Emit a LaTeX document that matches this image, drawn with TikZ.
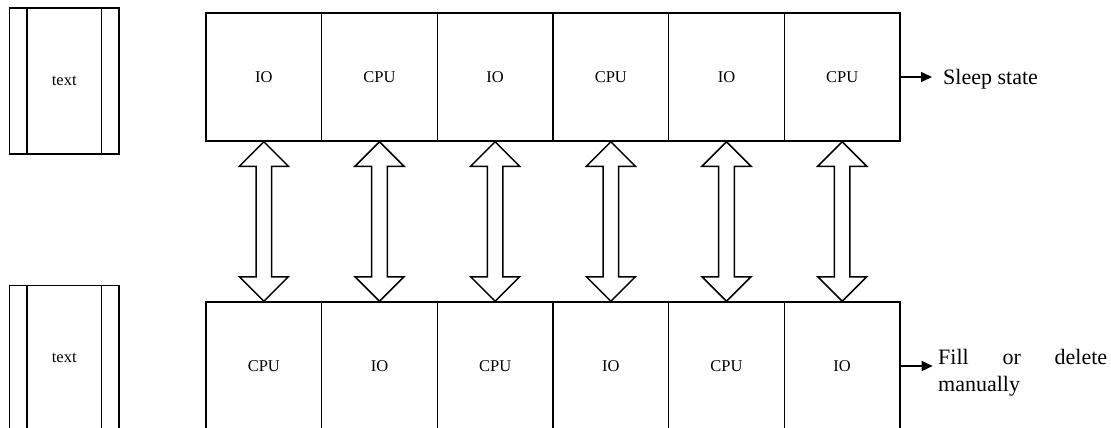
\documentclass[tikz,border=0pt]{standalone}
\usepackage{fontspec}
\setmainfont{Liberation Serif}
\usetikzlibrary{calc,arrows.meta}
\begin{document}
\begin{tikzpicture}[x=1pt,y=-1pt,
  lw/.style={line width=1.5pt},
  cell/.style={lw,draw,rectangle,minimum width=115.67pt,minimum height=128pt,inner sep=0pt,font=\fontsize{16.5}{19}\selectfont},
  sidebox/.style={lw,draw,rectangle,minimum width=109.5pt,minimum height=145.5pt,inner sep=0pt,font=\fontsize{16.5}{19}\selectfont},
  dbl/.style={lw,draw,line join=miter},
  lbl/.style={inner sep=0pt,font=\fontsize{22}{26.7}\selectfont},
  conn/.style={lw,-{Triangle[length=11pt,width=10pt]}}]
\useasboundingbox (0,0) rectangle (1111,428);
\clip (0,0) rectangle (1111,428);
% side boxes
\node[sidebox] (l1) at (64.25,81) {text};
\node[sidebox] (l2) at (64.25,358) {text};
\foreach \n in {l1,l2}{
  \draw[lw] ([xshift=18.2pt]\n.north west) -- ([xshift=18.2pt]\n.south west);
  \draw[lw] ([xshift=-18.3pt]\n.north east) -- ([xshift=-18.3pt]\n.south east);
}
% top row
\foreach \i/\t in {1/IO,2/CPU,3/IO,4/CPU,5/IO,6/CPU}{
  \node[cell] (t\i) at ({206+115.67*(\i-0.5)},77) {\t};
}
% bottom row
\foreach \i/\t in {1/CPU,2/IO,3/CPU,4/IO,5/CPU,6/IO}{
  \node[cell] (b\i) at ({206+115.67*(\i-0.5)},366) {\t};
}
% double arrows
\foreach \i in {1,...,6}{
  \draw[dbl] (t\i.south) -- ++(24.5,24.5) -- ++(-16.7,0)
    -- ($(b\i.north)+(7.8,-24.5)$) -- ++(16.7,0) -- (b\i.north)
    -- ++(-24.5,-24.5) -- ++(16.7,0)
    -- ($(t\i.south)+(-7.8,24.5)$) -- ++(-16.7,0) -- cycle;
}
% labels
\node[lbl,anchor=west] (sleep) at (943,79) {Sleep state};
\node[lbl,anchor=north west,text width=169pt,align=justify] (fill) at (938,349)
  {Fill or delete\linebreak manually};
\draw[conn,shorten >=11pt] (t6.east) -- (t6.east -| sleep.west);
\draw[conn,shorten >=5.3pt] (b6.east) -- (b6.east -| fill.west);
\end{tikzpicture}
\end{document}
